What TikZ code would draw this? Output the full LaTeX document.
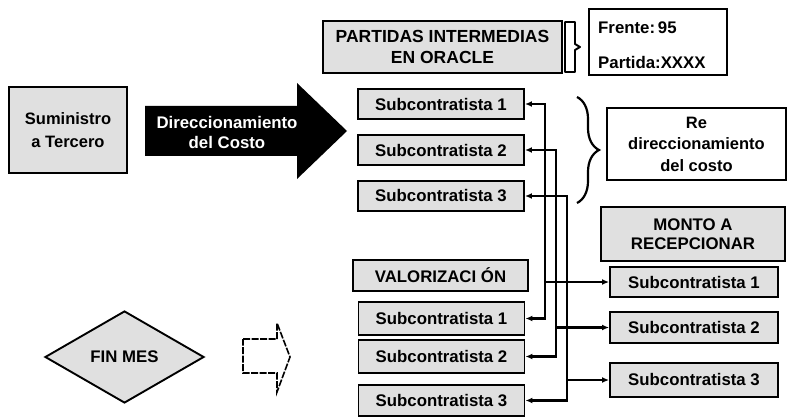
\documentclass[tikz,border=0pt]{standalone}
\usepackage{fontspec}
\setmainfont{Liberation Sans}
\usetikzlibrary{shapes.geometric,arrows.meta,decorations.pathreplacing}
\begin{document}
\begin{tikzpicture}[x=1pt,y=-1pt,
  every node/.style={font=\bfseries\fontsize{16.8}{19}\selectfont, inner sep=0pt, align=center},
  gbox/.style={draw=black, line width=1.9pt, fill=black!12, rectangle},
  wbox/.style={draw=black, line width=1.9pt, fill=white, rectangle},
  subbox/.style={gbox, minimum width=166pt, minimum height=30pt},
  conn/.style={line width=2.6pt},
  arr/.style={conn, -{Latex[length=7pt,width=6pt]}},
  darr/.style={conn, {Latex[length=7pt,width=6pt]}-{Latex[length=7pt,width=6pt]}}
]
\useasboundingbox (0,0) rectangle (787,417);

% left column
\node[gbox, minimum width=118pt, minimum height=86pt, font=\bfseries\fontsize{16.5}{23}\selectfont] (sum) at (68,130) {Suministro\\a Tercero};

% big black arrow
\fill[black] (145,106) -- (297,106) -- (297,83) -- (347,131) -- (297,179) -- (297,156) -- (145,156) -- cycle;
\node[text=white, font=\bfseries\fontsize{16.8}{20}\selectfont] (dir) at (227,132) {Direccionamiento\\del Costo};

% top
\node[gbox, minimum width=239pt, minimum height=52pt, font=\bfseries\fontsize{17.5}{21}\selectfont] (par) at (442.5,47) {PARTIDAS INTERMEDIAS\\EN ORACLE};
\draw[line width=1.9pt, line join=round] (565,22) -- (575,22) -- (575,44) -- (580,47) -- (575,50) -- (575,72) -- (565,72) -- cycle;
\node[wbox, minimum width=138pt, minimum height=66pt] (fre) at (658,42) {};
\node[anchor=west] (fre1) at (598,28) {Frente:\,95};
\node[anchor=west] (fre2) at (598,62) {Partida:XXXX};

% top subcontratistas
\node[subbox] (ts1) at (441,104) {Subcontratista 1};
\node[subbox] (ts2) at (441,150) {Subcontratista 2};
\node[subbox] (ts3) at (441,196) {Subcontratista 3};

% brace and redireccionamiento
\draw[line width=2.2pt, decorate, decoration={brace, amplitude=22pt}] (577,97) -- (577,203);
\node[wbox, minimum width=179pt, minimum height=72pt, font=\bfseries\fontsize{16.5}{21.5}\selectfont] (re) at (696.5,144) {Re\\direccionamiento\\del costo};

% monto
\node[gbox, minimum width=184pt, minimum height=54pt, font=\bfseries\fontsize{16.8}{18.5}\selectfont] (mon) at (693,234) {MONTO A\\RECEPCIONAR};

% valorizacion and bottom subcontratistas
\node[gbox, minimum width=175pt, minimum height=31pt] (val) at (440.5,275.5) {VALORIZACI ÓN};
\node[subbox, minimum height=33pt] (bs1) at (441.5,318.5) {Subcontratista 1};
\node[subbox, minimum height=33pt] (bs2) at (441.5,356.5) {Subcontratista 2};
\node[subbox, minimum height=31pt] (bs3) at (441.5,400.5) {Subcontratista 3};

% right subcontratistas
\node[gbox, minimum width=168pt, minimum height=30pt] (rs1) at (694,282) {Subcontratista 1};
\node[gbox, minimum width=168pt, minimum height=31pt] (rs2) at (694,327.5) {Subcontratista 2};
\node[gbox, minimum width=168pt, minimum height=34pt] (rs3) at (694,380) {Subcontratista 3};

% fin mes
\node[diamond, draw=black, line width=1.9pt, fill=black!12, minimum width=159pt, minimum height=92pt] (fin) at (124.5,357) {FIN MES};
\draw[line width=1.6pt, dash pattern=on 7pt off 1.5pt] (243,339) -- (277,339) -- (277,323) -- (290,357) -- (277,392) -- (277,373) -- (243,373) -- cycle;

% connectors
\coordinate (v1) at (545,0);
\coordinate (v2) at (556,0);
\coordinate (v3) at (567,0);
\draw[darr] (ts1.east) -- (v1 |- ts1.east) -- (v1 |- bs1.east) -- (bs1.east);
\draw[darr] (ts2.east) -- (v2 |- ts2.east) -- (v2 |- bs2.east) -- (bs2.east);
\draw[darr] (ts3.east) -- (v3 |- ts3.east) -- (v3 |- bs3.east) -- (bs3.east);
\draw[arr] (v1 |- rs1.west) -- (rs1.west);
\draw[arr] (v2 |- rs2.west) -- (rs2.west);
\draw[arr] (v3 |- rs3.west) -- (rs3.west);
\end{tikzpicture}
\end{document}
